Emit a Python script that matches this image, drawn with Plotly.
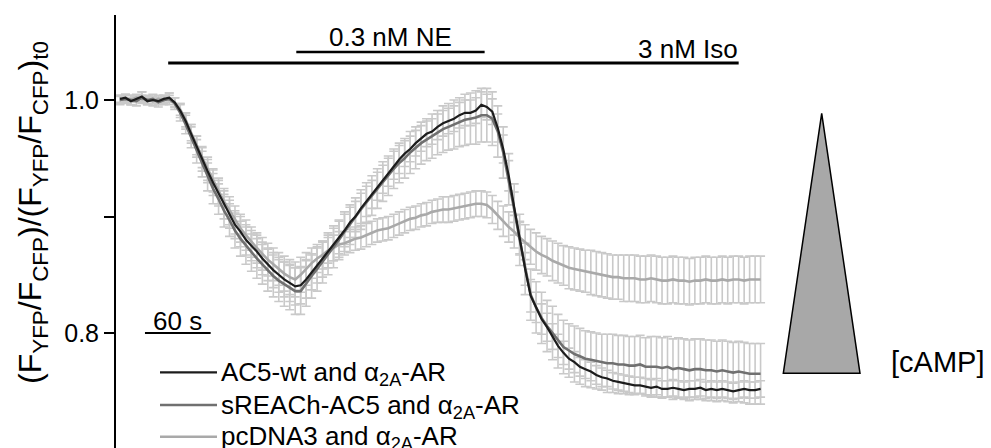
import plotly.graph_objects as go

# ---------------------------------------------------------------------------
# Data: normalised FRET ratio, sampled every 5 s
# ---------------------------------------------------------------------------
time_s = list(range(0, 590, 5))

ac5_wt = [
    1.001, 1.002, 0.999, 1.001, 1.003, 0.999, 1.000, 0.999, 1.001, 1.002,
    0.998, 0.991, 0.982, 0.971, 0.960, 0.949, 0.939, 0.929, 0.920, 0.910,
    0.902, 0.893, 0.887, 0.880, 0.875, 0.870, 0.864, 0.859, 0.854, 0.850,
    0.846, 0.843, 0.840, 0.841, 0.846, 0.852, 0.858, 0.863, 0.870, 0.876,
    0.882, 0.888, 0.895, 0.900, 0.907, 0.913, 0.919, 0.926, 0.932, 0.938,
    0.944, 0.949, 0.954, 0.958, 0.963, 0.967, 0.971, 0.973, 0.977, 0.980,
    0.982, 0.984, 0.987, 0.989, 0.989, 0.991, 0.996, 0.994, 0.990, 0.976,
    0.958, 0.935, 0.908, 0.881, 0.855, 0.832, 0.822, 0.812, 0.805, 0.797,
    0.789, 0.783, 0.778, 0.775, 0.771, 0.769, 0.767, 0.764, 0.762, 0.761,
    0.759, 0.758, 0.757, 0.756, 0.755, 0.755, 0.754, 0.753, 0.754, 0.752,
    0.752, 0.753, 0.752, 0.751, 0.752, 0.752, 0.753, 0.751, 0.752, 0.751,
    0.752, 0.751, 0.750, 0.751, 0.752, 0.751, 0.751, 0.752,
]
ac5_wt_err = [
    0.003, 0.003, 0.003, 0.003, 0.004, 0.003, 0.003, 0.003, 0.003, 0.004,
    0.004, 0.006, 0.007, 0.008, 0.009, 0.010, 0.010, 0.011, 0.011, 0.012,
    0.012, 0.012, 0.013, 0.013, 0.013, 0.014, 0.014, 0.014, 0.015, 0.015,
    0.015, 0.016, 0.016, 0.016, 0.016, 0.015, 0.015, 0.015, 0.014, 0.014,
    0.014, 0.014, 0.013, 0.013, 0.013, 0.013, 0.012, 0.012, 0.012, 0.012,
    0.012, 0.012, 0.011, 0.011, 0.011, 0.011, 0.011, 0.011, 0.011, 0.011,
    0.011, 0.011, 0.011, 0.011, 0.011, 0.011, 0.011, 0.011, 0.011, 0.012,
    0.012, 0.013, 0.013, 0.014, 0.014, 0.014, 0.013, 0.013, 0.012, 0.011,
    0.010, 0.010, 0.009, 0.009, 0.008, 0.008, 0.008, 0.008, 0.008, 0.007,
    0.007, 0.007, 0.007, 0.007, 0.007, 0.007, 0.007, 0.007, 0.007, 0.007,
    0.007, 0.007, 0.007, 0.007, 0.007, 0.007, 0.007, 0.007, 0.007, 0.007,
    0.007, 0.007, 0.007, 0.007, 0.007, 0.007, 0.007, 0.007,
]

sreach_ac5 = [
    1.000, 1.001, 1.000, 0.999, 1.002, 1.000, 1.001, 0.998, 1.000, 1.001,
    0.997, 0.989, 0.979, 0.968, 0.956, 0.945, 0.934, 0.924, 0.915, 0.905,
    0.897, 0.888, 0.881, 0.875, 0.869, 0.864, 0.859, 0.854, 0.849, 0.845,
    0.842, 0.839, 0.836, 0.836, 0.843, 0.849, 0.855, 0.861, 0.868, 0.874,
    0.880, 0.887, 0.893, 0.899, 0.906, 0.912, 0.918, 0.924, 0.930, 0.935,
    0.941, 0.946, 0.950, 0.955, 0.959, 0.963, 0.966, 0.969, 0.972, 0.975,
    0.977, 0.979, 0.981, 0.983, 0.984, 0.985, 0.987, 0.987, 0.984, 0.973,
    0.955, 0.932, 0.906, 0.880, 0.855, 0.833, 0.822, 0.813, 0.806, 0.800,
    0.793, 0.788, 0.785, 0.782, 0.780, 0.778, 0.777, 0.776, 0.775, 0.774,
    0.774, 0.773, 0.773, 0.772, 0.772, 0.773, 0.771, 0.771, 0.771, 0.770,
    0.771, 0.769, 0.770, 0.769, 0.768, 0.769, 0.769, 0.768, 0.768, 0.767,
    0.768, 0.767, 0.766, 0.767, 0.766, 0.765, 0.765, 0.765,
]
sreach_ac5_err = [
    0.004, 0.004, 0.004, 0.004, 0.005, 0.004, 0.004, 0.004, 0.004, 0.005,
    0.005, 0.007, 0.008, 0.009, 0.010, 0.011, 0.012, 0.013, 0.013, 0.014,
    0.014, 0.015, 0.015, 0.016, 0.016, 0.017, 0.017, 0.018, 0.018, 0.018,
    0.019, 0.019, 0.020, 0.020, 0.020, 0.019, 0.019, 0.018, 0.018, 0.018,
    0.017, 0.017, 0.017, 0.017, 0.017, 0.017, 0.017, 0.017, 0.017, 0.017,
    0.017, 0.017, 0.017, 0.018, 0.018, 0.018, 0.018, 0.019, 0.019, 0.020,
    0.020, 0.021, 0.021, 0.022, 0.022, 0.023, 0.023, 0.023, 0.023, 0.022,
    0.022, 0.022, 0.022, 0.022, 0.022, 0.022, 0.022, 0.022, 0.022, 0.023,
    0.023, 0.023, 0.023, 0.024, 0.024, 0.024, 0.024, 0.024, 0.024, 0.025,
    0.025, 0.025, 0.025, 0.025, 0.025, 0.025, 0.025, 0.026, 0.026, 0.026,
    0.026, 0.026, 0.026, 0.026, 0.026, 0.026, 0.026, 0.026, 0.026, 0.026,
    0.026, 0.026, 0.026, 0.026, 0.026, 0.026, 0.026, 0.026,
]

pcdna3 = [
    1.000, 1.001, 1.000, 1.002, 1.001, 1.000, 0.999, 1.001, 1.000, 1.001,
    0.998, 0.992, 0.983, 0.972, 0.961, 0.951, 0.941, 0.931, 0.922, 0.913,
    0.905, 0.897, 0.890, 0.884, 0.878, 0.873, 0.868, 0.863, 0.859, 0.855,
    0.851, 0.848, 0.846, 0.850, 0.855, 0.860, 0.864, 0.867, 0.871, 0.873,
    0.876, 0.877, 0.879, 0.881, 0.882, 0.884, 0.886, 0.888, 0.889, 0.890,
    0.892, 0.894, 0.896, 0.898, 0.899, 0.901, 0.902, 0.904, 0.905, 0.906,
    0.906, 0.907, 0.908, 0.909, 0.910, 0.911, 0.911, 0.910, 0.906, 0.901,
    0.896, 0.891, 0.887, 0.882, 0.878, 0.874, 0.870, 0.867, 0.865, 0.862,
    0.860, 0.858, 0.856, 0.855, 0.854, 0.853, 0.852, 0.851, 0.850, 0.849,
    0.848, 0.848, 0.847, 0.847, 0.847, 0.846, 0.846, 0.847, 0.846, 0.845,
    0.845, 0.846, 0.845, 0.845, 0.844, 0.845, 0.845, 0.846, 0.845, 0.845,
    0.846, 0.845, 0.846, 0.846, 0.845, 0.846, 0.846, 0.846,
]
pcdna3_err = [
    0.003, 0.003, 0.004, 0.003, 0.003, 0.003, 0.004, 0.003, 0.003, 0.003,
    0.004, 0.005, 0.006, 0.007, 0.008, 0.009, 0.010, 0.010, 0.011, 0.011,
    0.012, 0.012, 0.012, 0.013, 0.013, 0.013, 0.014, 0.014, 0.014, 0.014,
    0.015, 0.015, 0.015, 0.015, 0.014, 0.013, 0.012, 0.012, 0.011, 0.011,
    0.011, 0.010, 0.010, 0.010, 0.010, 0.010, 0.010, 0.010, 0.010, 0.010,
    0.010, 0.010, 0.010, 0.010, 0.010, 0.010, 0.010, 0.010, 0.010, 0.011,
    0.011, 0.011, 0.011, 0.011, 0.011, 0.011, 0.011, 0.011, 0.012, 0.012,
    0.013, 0.013, 0.014, 0.014, 0.015, 0.015, 0.016, 0.016, 0.016, 0.017,
    0.017, 0.017, 0.018, 0.018, 0.018, 0.018, 0.019, 0.019, 0.019, 0.019,
    0.019, 0.019, 0.020, 0.020, 0.020, 0.020, 0.020, 0.020, 0.020, 0.020,
    0.020, 0.020, 0.020, 0.020, 0.020, 0.020, 0.020, 0.020, 0.020, 0.020,
    0.020, 0.020, 0.020, 0.020, 0.020, 0.020, 0.020, 0.020,
]

series_names = [
    "AC5-wt and α<sub>2A</sub>-AR",
    "sREACh-AC5 and α<sub>2A</sub>-AR",
    "pcDNA3 and α<sub>2A</sub>-AR",
]
series_values = [ac5_wt, sreach_ac5, pcdna3]
series_errors = [ac5_wt_err, sreach_ac5_err, pcdna3_err]
series_colors = ["#1c1c1c", "#707070", "#a9a9a9"]
series_widths = [2.2, 2.6, 2.6]

# drug application windows (s)
iso_window = (44, 565)
ne_window = (161, 333)
scale_bar_s = 60
y_ticks = [0.8, 0.9, 1.0]
y_tick_text = ["0.8", "", "1.0"]

FONT = "Liberation Sans, Arial, Helvetica, sans-serif"

# plot-area geometry in pixels
W, H = 991, 448
L, T = 116, 15
PW, PH = W - L, H - T


def px_x(px):
    return (px - L) / PW


def px_y(py):
    return (H - py) / PH


fig = go.Figure()

# error bars first so every mean trace sits on top of them
for vals, errs in zip(series_values[::-1], series_errors[::-1]):
    fig.add_trace(go.Scatter(
        x=time_s, y=vals, mode="markers",
        marker=dict(size=0.1, color="rgba(0,0,0,0)"),
        error_y=dict(type="data", array=errs, visible=True,
                     color="#c9c9c9", thickness=1.6, width=4.5),
        hoverinfo="skip", showlegend=False,
    ))

for name, vals, col, lw in list(zip(series_names, series_values,
                                    series_colors, series_widths))[::-1]:
    fig.add_trace(go.Scatter(
        x=time_s, y=vals, mode="lines", name=name,
        line=dict(color=col, width=lw), showlegend=False,
    ))

shapes = []
annotations = []

# treatment bars
shapes.append(dict(type="line", xref="x", yref="y",
                   x0=iso_window[0], x1=iso_window[1], y0=1.0318, y1=1.0318,
                   line=dict(color="black", width=3)))
shapes.append(dict(type="line", xref="x", yref="y",
                   x0=ne_window[0], x1=ne_window[1], y0=1.0412, y1=1.0412,
                   line=dict(color="black", width=2.4)))
annotations.append(dict(xref="x", yref="y",
                        x=(ne_window[0] + ne_window[1]) / 2, y=1.0545,
                        text="0.3 nM NE", showarrow=False,
                        xanchor="center", yanchor="middle",
                        font=dict(size=26)))
annotations.append(dict(xref="x", yref="y", x=iso_window[1] + 1, y=1.0438,
                        text="3 nM Iso", showarrow=False,
                        xanchor="right", yanchor="middle",
                        font=dict(size=26)))

# time scale bar
sb_start = 22.8
shapes.append(dict(type="line", xref="x", yref="y",
                   x0=sb_start, x1=sb_start + scale_bar_s, y0=0.8, y1=0.8,
                   line=dict(color="black", width=2)))
annotations.append(dict(xref="x", yref="y", x=sb_start + scale_bar_s / 2,
                        y=0.8105, text=f"{scale_bar_s} s", showarrow=False,
                        xanchor="center", yanchor="middle",
                        font=dict(size=26)))

# legend
legend_rows_px = [372.3, 405.0, 436.7]
for name, col, lw, ry in zip(series_names, series_colors,
                             series_widths, legend_rows_px):
    shapes.append(dict(type="line", xref="paper", yref="paper",
                       x0=px_x(160), x1=px_x(217), y0=px_y(ry), y1=px_y(ry),
                       line=dict(color=col, width=lw)))
    annotations.append(dict(xref="paper", yref="paper", x=px_x(219),
                            y=px_y(ry + 1), text=name, showarrow=False,
                            xanchor="left", yanchor="middle",
                            font=dict(size=26)))

# cAMP wedge
tri = (f"M {px_x(783.3)},{px_y(373.3)} L {px_x(821.7)},{px_y(113.3)} "
       f"L {px_x(860)},{px_y(373.3)} Z")
shapes.append(dict(type="path", xref="paper", yref="paper", path=tri,
                   fillcolor="#a8a8a8", line=dict(color="black", width=1.5)))
annotations.append(dict(xref="paper", yref="paper", x=px_x(937),
                        y=px_y(362), text="[cAMP]", showarrow=False,
                        xanchor="center", yanchor="middle",
                        font=dict(size=29)))

# y-axis title
annotations.append(dict(
    xref="paper", yref="paper", x=px_x(32), y=px_y(213),
    text="(F<sub>YFP</sub>/F<sub>CFP</sub>)/(F<sub>YFP</sub>/F<sub>CFP</sub>)<sub>t0</sub>",
    textangle=-90, showarrow=False, xanchor="center", yanchor="middle",
    font=dict(size=32)))

t_left = (L - 120) / 1.095
t_right = (W - 120) / 1.095

fig.update_layout(
    width=W, height=H,
    margin=dict(l=L, r=0, t=T, b=0, pad=0),
    paper_bgcolor="white", plot_bgcolor="white",
    showlegend=False,
    font=dict(family=FONT, size=24, color="black"),
    shapes=shapes, annotations=annotations,
    xaxis=dict(range=[t_left, t_right], visible=False),
    yaxis=dict(range=[0.7013, 1.073], tickvals=y_ticks, ticktext=y_tick_text,
               ticks="outside", ticklen=10, tickwidth=2, tickcolor="black",
               showline=True, linewidth=2, linecolor="black",
               showgrid=False, zeroline=False,
               tickfont=dict(size=25, family=FONT)),
)

fig.write_html("out.html")
